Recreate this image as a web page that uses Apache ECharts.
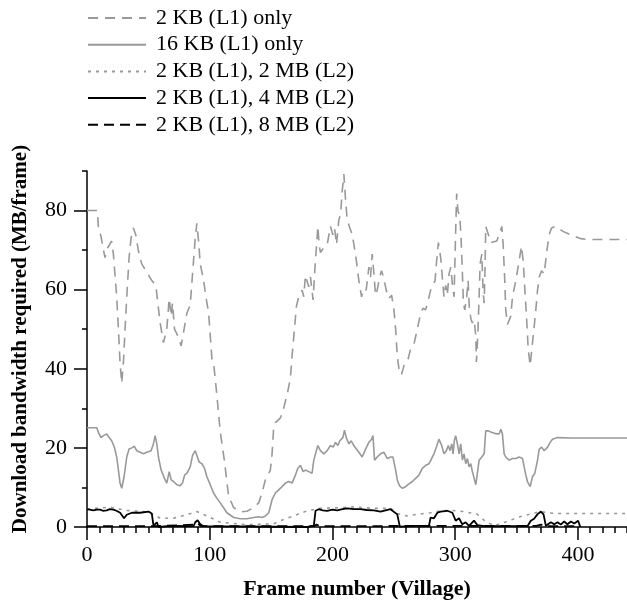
<!DOCTYPE html>
<html><head><meta charset="utf-8">
<script src="https://cdn.jsdelivr.net/npm/echarts@6/dist/echarts.min.js"></script>
<style>html,body{margin:0;padding:0;background:#fff}#c{width:627px;height:605px}</style>
</head><body><div id="c"></div>
<script>
const seriesNames = ['2 KB (L1) only', '16 KB (L1) only', '2 KB (L1), 2 MB (L2)', '2 KB (L1), 4 MB (L2)', '2 KB (L1), 8 MB (L2)'];
const xTickLabels = [0, 100, 200, 300, 400];
const yTickLabels = [0, 20, 40, 60, 80];

// [frame, MB/frame]
const l1_2kb = [[0,80],[8.5,80],[9.3,75.6],[11.4,73.5],[13.3,70.2],[14.7,68.1],[16.9,70.6],[20.1,72.3],[21.5,69],[24.2,58.2],[25.6,50],[26.9,41.7],[28.3,36.3],[29.7,41.7],[31,50],[32.4,58.2],[34.3,68.1],[35.9,73.1],[37.8,75.6],[39.7,73.9],[41.9,69.8],[44.6,66.5],[48.7,64.4],[52.8,62.3],[56.1,61.1],[57.7,56.6],[59.6,51.6],[62.3,46.6],[65,50],[67,57.8],[68.6,53.3],[69.7,56.6],[71.3,50],[74,48.3],[76.7,45.8],[78.6,49.1],[81.4,54.1],[84.1,56.1],[86,64],[88.2,73.1],[89.5,76.8],[90.9,72.3],[92.3,66.5],[95,62.3],[96.9,58.2],[99.1,54.1],[101.8,42.5],[103.1,41.7],[105.8,33.4],[108.6,24],[111.9,16.9],[115.4,7.8],[119.5,4.9],[124.9,3.8],[130.4,4.0],[135.8,4.9],[139.9,6.1],[142.6,8.6],[145.3,11.9],[149.4,14.4],[150.8,18.5],[152.1,25.1],[153.5,26.4],[157.6,27.6],[160.3,30.1],[163,33.4],[165.7,37.5],[167.1,43.3],[169,49.9],[170.6,55.7],[172.5,58.2],[173.9,59],[175.3,59.9],[176.6,58.2],[178,63.6],[180.7,60.7],[182.1,63.2],[184.2,57.4],[185.6,64.8],[186.9,70.6],[188.1,76],[189.1,71.4],[190.2,69.4],[192.9,70.6],[195.7,71.4],[198.4,76],[200.3,73.9],[201.7,75.6],[203.3,71.4],[205.2,77.7],[206.6,78.9],[207.9,84.7],[209.3,89.2],[210.6,83],[212,77.7],[214.2,75.6],[216.1,73.9],[218.8,69],[221.5,62.3],[223.7,58.2],[225.6,60.3],[227.5,59.9],[229.7,65.7],[231,63.2],[232.4,69],[233.8,64],[235.1,58.6],[236.5,59.9],[238.4,63.2],[240,64.8],[241.9,62.8],[243.8,59.9],[246,57.8],[248.2,58.6],[250.1,54.9],[251.5,50],[252.8,43.3],[254.2,40],[256.1,38.4],[258.3,40.8],[261,41.7],[263.7,45],[266.4,46.2],[269.1,50],[271.9,54.1],[273.8,55.3],[275.9,54.9],[278.1,57.4],[280,59.9],[281.9,61.1],[283.6,62.3],[284.9,67.3],[286.3,71.9],[288.2,68.1],[289.5,63.2],[290.9,58.2],[292.3,61.1],[293.6,58.6],[295,64],[296.4,65.7],[297.7,61.5],[299.1,58.2],[300.4,74.8],[301.2,84.3],[302.3,79.7],[303.7,78.9],[304.8,73.1],[305.9,64],[306.7,56.6],[307.8,54.9],[309.4,58.2],[310.5,62.3],[311.6,54.9],[313,52.4],[314,51.6],[315.4,52.4],[316.8,48.3],[317.3,41.7],[318.4,48.3],[319.5,58.2],[320.3,66.5],[321.7,69],[322.7,59.9],[323.6,56.6],[324.4,66.5],[324.9,76],[327.1,73.9],[329,71.9],[333.9,72.3],[335.8,73.9],[338,76],[339.1,71.4],[340.4,62.3],[341.2,54.9],[342.6,51.2],[345.3,53.3],[346.7,58.2],[349.4,62.3],[352.1,67.3],[354,71],[355.4,67.3],[356.8,59.9],[358.4,51.6],[359.5,45],[361.1,40.8],[363,46.6],[364.4,50.8],[365.7,54.9],[367.1,59.9],[368.5,63.2],[370.4,64.8],[372.5,64],[374.7,69.8],[376.6,73.9],[378.5,75.6],[382.1,76],[387.5,74.8],[394.3,73.8],[402.5,72.9],[407.9,72.7],[440,72.7]];

const l1_16kb = [[0,25.1],[8,25.1],[9.3,23.9],[11.4,22.6],[13.3,23.1],[16.1,23.5],[18,22.6],[20.1,21.8],[22.3,20.2],[24.2,17.7],[25.6,14.4],[26.9,11.1],[28.3,9.8],[30.2,12.7],[32.4,17.7],[34.3,19.7],[36.5,20],[38.6,20.4],[40.5,19.3],[43.3,18.9],[46,18.5],[48.7,18.9],[52.2,19.3],[54.1,21],[55.5,23.1],[56.9,21],[58.2,17.7],[60.4,14.4],[63.1,12.3],[65,11.1],[67,14],[68.6,11.9],[70.5,11.5],[73.2,10.7],[75.9,10.4],[77.8,11.1],[79.5,13.1],[81.4,13.6],[84.1,15.2],[86,18.1],[88.2,19.3],[89.8,19.8],[91.4,16.4],[93.6,16],[95.8,14.8],[97.7,12.7],[100.4,10.7],[103.1,8.6],[105.8,7.3],[108.6,6.1],[112.1,4.5],[114,3.6],[119.5,2.4],[124.9,2.1],[130.4,2.1],[135.8,2.4],[139.9,2.6],[142.6,2.4],[145.3,2.8],[148.1,3.6],[150.8,6.9],[153.5,8.6],[156.2,9.4],[158.9,10.2],[161.7,11.1],[164.4,11.5],[167.1,11.1],[169.8,13.1],[171.7,14.8],[173.9,15.6],[176.1,14],[178,14.4],[180.7,14],[183.4,13.6],[184.8,16.9],[186.2,18.5],[188.1,20.6],[190.2,19.3],[192.9,18.5],[195.7,19.3],[198.4,20.6],[200.6,20.2],[202.5,21.4],[204.4,20.6],[206,21.8],[207.1,22.2],[208.5,22.6],[209.8,24.5],[211.2,22.6],[213.4,21],[215.3,21.8],[217.4,20.6],[219,20.2],[221.5,18.9],[224.2,17.7],[227,19.7],[229.7,21.4],[231.9,22.2],[233,23.1],[234.3,16.9],[236.5,17.7],[239.2,18.5],[241.9,18.9],[244.7,17.3],[247.4,17.7],[249.3,17.7],[251.5,14.4],[252.8,11.9],[254.7,10.4],[256.9,9.8],[259.6,10.2],[262.3,10.9],[265.1,11.5],[267.8,12.3],[270.5,13.1],[273.2,14.8],[276,15.6],[278.7,16],[280.8,17.3],[282.7,18.5],[284.7,20.2],[286.8,22.2],[289,20.6],[290.9,18.5],[292.8,19.3],[294.4,20.6],[295.8,19.3],[297.2,21],[298.3,18.5],[299.3,21.8],[300.4,23.1],[301.8,21],[303.2,18.5],[304.5,21],[305.9,16.9],[307.2,18.5],[308.6,16],[310,17.3],[311.3,15.2],[312.7,16],[314,14],[315.4,13.6],[316.8,10.7],[318.1,13.6],[319.5,16.9],[321.7,17.7],[323.6,18.5],[324.9,24.3],[327.1,24.3],[329,24],[333.1,23.6],[335.8,23.5],[337.2,24.7],[338.5,23.5],[339.9,18.5],[341.2,17.7],[344,16.9],[346.7,17.3],[349.4,17.3],[352.1,17.7],[354.9,17.3],[356.2,15.2],[357.6,13.1],[358.9,11.5],[361.1,10.2],[363,12.7],[364.9,13.6],[367.1,16.9],[368.5,19.7],[370.4,20.2],[372.5,19.3],[375.3,20.2],[377.4,21.4],[379.3,22.2],[383.4,22.6],[394.3,22.5],[440,22.5]];

const l2_2mb = [[0,4.5],[5.2,4.7],[18.8,5.0],[32.4,4.2],[46,3.9],[54.2,3.2],[59.6,2.2],[70.5,2.2],[81.4,3.1],[89.6,3.9],[97.7,2.8],[103.2,2.0],[108.6,1.2],[130,0.6],[152.2,0.8],[157.6,1.6],[168.5,2.8],[179.4,4.1],[190.2,4.7],[206.6,4.9],[217.4,5.1],[233.7,4.7],[247.3,4.7],[252.8,3.4],[260.9,2.8],[269.1,3.2],[280,3.6],[288.1,4.1],[296.3,4.2],[307.2,3.9],[318.1,3.2],[323.5,1.7],[331.7,0.3],[342.6,1.4],[350.7,2.4],[358.9,3.1],[369.8,3.9],[375.2,3.6],[383.4,3.4],[397,3.4],[440,3.4]];

const l2_4mb = [[0,4.5],[5.2,4.2],[8,4.4],[10.7,4.4],[13,4.1],[16.1,4.2],[18.5,4.5],[21.5,4.4],[24,4.1],[27,3.6],[30.2,2.2],[32.4,3.1],[36.5,3.6],[43.3,3.6],[50.1,3.9],[52.8,3.4],[54.2,0.3],[56.9,1.2],[58.3,0],[67.8,0.3],[86.8,0.2],[88.2,1.2],[90.1,1.7],[92.3,0.7],[95,0.2],[179.4,0],[184.8,0.3],[186.2,4.1],[188.9,4.5],[192,4.2],[195.7,4.1],[200,4.4],[203.9,4.2],[208,4.5],[212,4.7],[217.5,4.5],[222.8,4.5],[228,4.3],[233.7,4.2],[239.2,3.9],[247.3,4.5],[252.8,3.2],[254.9,0.1],[269.1,0.3],[278.6,0.3],[280,2.4],[282.7,2.2],[285.5,3.6],[288.1,3.9],[293.6,4.1],[297.7,3.6],[300.4,1.6],[303.1,2.2],[305.8,0.7],[308.5,1.2],[311.3,0.3],[315.3,1.6],[318.1,0.5],[323.5,0.2],[358.9,0.2],[361.6,1.6],[364.3,2.1],[367,3.2],[369.8,3.9],[372,3.2],[373.9,0.3],[378,1.2],[380.7,0.7],[383.4,1.2],[386.1,0.6],[388.8,1.4],[391.5,0.7],[394.3,1.4],[397,0.9],[400.2,1.6],[401.9,0]];

const l2_8mb = [[0,0.2],[54,0.2],[88,0.6],[90,1.0],[93,0.2],[185,0.2],[187,0.6],[190,0.2],[300,0.3],[366,0.3],[370,0.6],[374,0.2],[402,0.2]];

const FONT = 'Liberation Serif';
const GREY = '#999999';

const chart = echarts.init(document.getElementById('c'), null, {renderer: 'canvas'});
const black = {color: '#000', width: 1.5};

const mkSeries = (name, data, color, width, type, z) => ({
  name, type: 'line', data, symbol: 'none', showSymbol: false,
  xAxisIndex: 0, yAxisIndex: 0, z,
  lineStyle: {color, width, type}, itemStyle: {color}
});

chart.setOption({
  animation: false,
  backgroundColor: '#fff',
  grid: {left: 87, right: 0, top: 171, bottom: 72, containLabel: false},
  legend: {
    orient: 'vertical', left: 87, top: 7, padding: 0,
    itemWidth: 58, itemHeight: 14, itemGap: 4.7,
    itemStyle: {opacity: 0, borderWidth: 0},
    textStyle: {fontFamily: FONT, fontSize: 22, color: '#000', lineHeight: 22, padding: [0, 0, 0, 5]},
    data: seriesNames
  },
  xAxis: [
    {
      type: 'value', min: 0, max: 440, interval: 10, position: 'bottom', offset: 0,
      axisLine: {onZero: false, lineStyle: black},
      axisTick: {length: 6, lineStyle: black},
      axisLabel: {customValues: xTickLabels, fontFamily: FONT, fontSize: 22, color: '#000', margin: 17},
      splitLine: {show: false},
      name: 'Frame number (Village)', nameLocation: 'middle', nameGap: 51,
      nameTextStyle: {fontFamily: FONT, fontSize: 22, fontWeight: 'bold', color: '#000'}
    },
    {
      type: 'value', min: 0, max: 440, position: 'bottom', offset: 0,
      axisLine: {show: false},
      axisTick: {customValues: xTickLabels, length: 13, lineStyle: black},
      axisLabel: {show: false}, splitLine: {show: false}
    }
  ],
  yAxis: [
    {
      type: 'value', min: 0, max: 90, interval: 10, position: 'left', offset: 0,
      axisLine: {onZero: false, lineStyle: black},
      axisTick: {length: 5, lineStyle: black},
      axisLabel: {customValues: yTickLabels, fontFamily: FONT, fontSize: 22, color: '#000', margin: 20},
      splitLine: {show: false},
      name: 'Download bandwidth required (MB/frame)', nameLocation: 'middle', nameGap: 56, nameRotate: 90,
      nameTextStyle: {fontFamily: FONT, fontSize: 21, fontWeight: 'bold', color: '#000', padding: [0, 0, 0, 20]}
    },
    {
      type: 'value', min: 0, max: 90, position: 'left', offset: 0,
      axisLine: {show: false},
      axisTick: {customValues: yTickLabels, length: 13, lineStyle: black},
      axisLabel: {show: false}, splitLine: {show: false}
    }
  ],
  series: [
    mkSeries(seriesNames[0], l1_2kb, GREY, 1.6, [10, 7], 2),
    mkSeries(seriesNames[1], l1_16kb, GREY, 1.6, 'solid', 2),
    mkSeries(seriesNames[2], l2_2mb, GREY, 1.6, [3, 5], 3),
    mkSeries(seriesNames[3], l2_4mb, '#000', 1.8, 'solid', 4),
    mkSeries(seriesNames[4], l2_8mb, '#000', 1.8, [10, 6], 5)
  ]
});
</script></body></html>
